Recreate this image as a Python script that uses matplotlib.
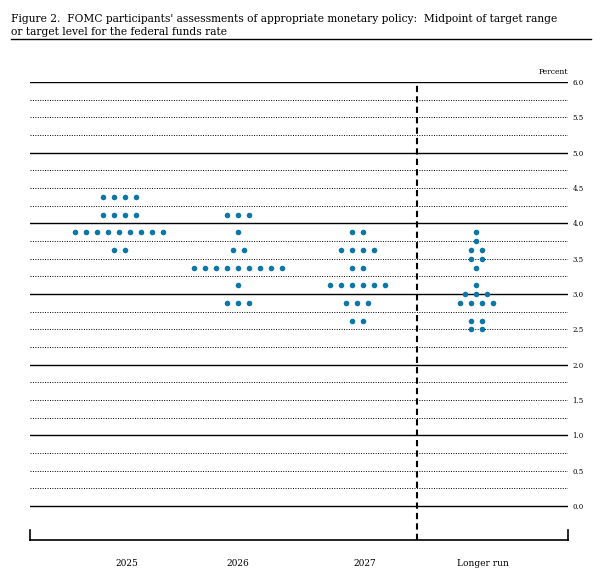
import numpy as np
import matplotlib.pyplot as plt

categories = ["2025", "2026", "2027", "Longer run"]
# (rate, number of participants) for each period
dots_2025 = [(4.375, 4), (4.125, 4), (3.875, 9), (3.625, 2)]
dots_2026 = [(4.125, 3), (3.875, 1), (3.625, 2), (3.375, 9), (3.125, 1), (2.875, 3)]
dots_2027 = [(3.875, 2), (3.625, 4), (3.375, 2), (3.125, 6), (2.875, 3), (2.625, 2)]
dots_long = [(3.875, 1), (3.75, 1), (3.625, 2), (3.5, 2), (3.375, 1), (3.125, 1),
             (3.0, 3), (2.875, 4), (2.625, 2), (2.5, 2)]
all_dots = [dots_2025, dots_2026, dots_2027, dots_long]
tick_vals = np.arange(0, 6.01, 0.5)

plt.rcParams["font.family"] = "DejaVu Serif"
fig = plt.figure(figsize=(6, 5.78), dpi=100)
fig.text(0.018, 0.975, "Figure 2.  FOMC participants' assessments of appropriate monetary policy:  Midpoint of target range\nor target level for the federal funds rate",
         fontsize=7.7, va="top", ha="left", linespacing=1.3)
fig.add_artist(plt.Line2D([0.018, 0.985], [0.932, 0.932], color="black", lw=1))

ax = fig.add_axes([0.05, 0.066, 0.897, 0.792])
ax.set_xlim(0.252, 4.773)
ax.set_ylim(-0.48, 6.0)

for y in np.arange(0, 6.01, 0.25):
    if abs(y - round(y)) < 1e-9:
        ax.axhline(y, color="black", lw=1.0)
    else:
        ax.axhline(y, color="black", lw=0.7, ls=(0, (1, 1.5)))
ax.axvline(3.504, color="black", lw=1.5, ls=(0, (3, 2)))

sp = 0.0925
for i, group in enumerate(all_dots):
    for rate, n in group:
        xs = i + 1 + (np.arange(n) - (n - 1) / 2) * sp
        ax.scatter(xs, [rate] * n, s=16, color="#0b76a8", zorder=3, linewidths=0)

for spine in ["top", "right", "left"]:
    ax.spines[spine].set_visible(False)
ax.spines["bottom"].set_linewidth(1.2)
ax.set_xticks([1.067, 2.0, 3.067, 4.06])
ax.set_xticklabels(categories, fontsize=6.5)
ax.tick_params(axis="x", length=0, pad=14)
ax.set_yticks(tick_vals)
ax.set_yticklabels([f"{v:.1f}" for v in tick_vals], fontsize=5)
ax.yaxis.tick_right()
ax.tick_params(axis="y", length=0, pad=3)
for x in [0.252, 4.773]:
    ax.plot([x, x], [-0.48, -0.34], color="black", lw=1.2, clip_on=False)
ax.text(4.773, 6.08, "Percent", fontsize=5.5, ha="right", va="bottom")

fig.savefig("out.png")
